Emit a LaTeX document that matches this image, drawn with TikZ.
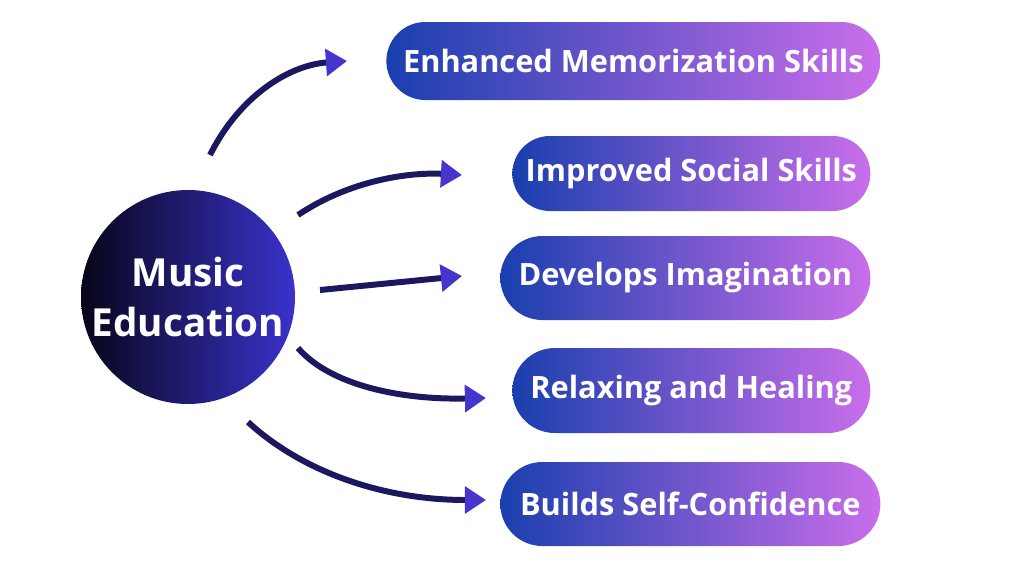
\documentclass[tikz,border=0pt]{standalone}
\usepackage{fontspec}
\setmainfont{Open Sans}
\usetikzlibrary{arrows.meta, positioning}
\definecolor{boxblue}{HTML}{1A3FAE}
\definecolor{boxpink}{HTML}{C96EEA}
\definecolor{circdark}{HTML}{07061A}
\definecolor{circblue}{HTML}{3A32CC}
\definecolor{arrowline}{HTML}{1C1860}
\definecolor{arrowtip}{HTML}{4535CC}
\tikzset{
  benefit/.style={left color=boxblue, right color=boxpink,
    text=white, font=\bfseries\fontsize{17.5}{20}\selectfont, inner sep=0pt, anchor=west},
  link/.style={line width=3.4pt, draw=arrowline,
    -{Triangle[length=12pt, width=15pt, color=arrowtip]}}
}
\begin{document}
\begin{tikzpicture}[x=0.02cm, y=-0.02cm]
\useasboundingbox (0,0) rectangle (1024,576);
% center topic
\node[circle, inner sep=0pt, minimum size=214*0.02cm, left color=circdark, right color=circblue,
  text=white, font=\bfseries\fontsize{22}{28}\selectfont, align=center] (edu) at (188,297)
  {Music\\Education};
% benefits
\node[benefit, minimum width=494*0.02cm, minimum height=78*0.02cm, rounded corners=0.78cm] (b1) at (386,61) {Enhanced Memorization Skills};
\node[benefit, minimum width=358*0.02cm, minimum height=75*0.02cm, rounded corners=0.75cm] (b2) at (512,173.5) {Improved Social Skills};
\node[benefit, minimum width=370*0.02cm, minimum height=84*0.02cm, rounded corners=0.84cm] (b3) at (500,278) {Develops Imagination};
\node[benefit, minimum width=358*0.02cm, minimum height=85*0.02cm, rounded corners=0.85cm] (b4) at (512,390.5) {Relaxing and Healing};
\node[benefit, minimum width=380*0.02cm, minimum height=84*0.02cm, rounded corners=0.84cm] (b5) at (500,504) {Builds Self-Confidence};
% arrow ends
\coordinate (s1) at (210,155);
\coordinate (s2) at (298,215);
\coordinate (s3) at (320,290);
\coordinate (s4) at (298,348);
\coordinate (s5) at (248,422);
\coordinate (e1) at (347,61);
\coordinate (e2) at (462,175);
\coordinate (e3) at (462,276);
\coordinate (e4) at (486,398);
\coordinate (e5) at (486,500);
\draw[link] (s1) .. controls (240,95) and (290,65) .. (e1);
\draw[link] (s2) .. controls (350,180) and (410,172) .. (e2);
\draw[link] (s3) -- (e3);
\draw[link] (s4) .. controls (330,385) and (400,400) .. (e4);
\draw[link] (s5) .. controls (300,470) and (380,500) .. (e5);
\end{tikzpicture}
\end{document}
